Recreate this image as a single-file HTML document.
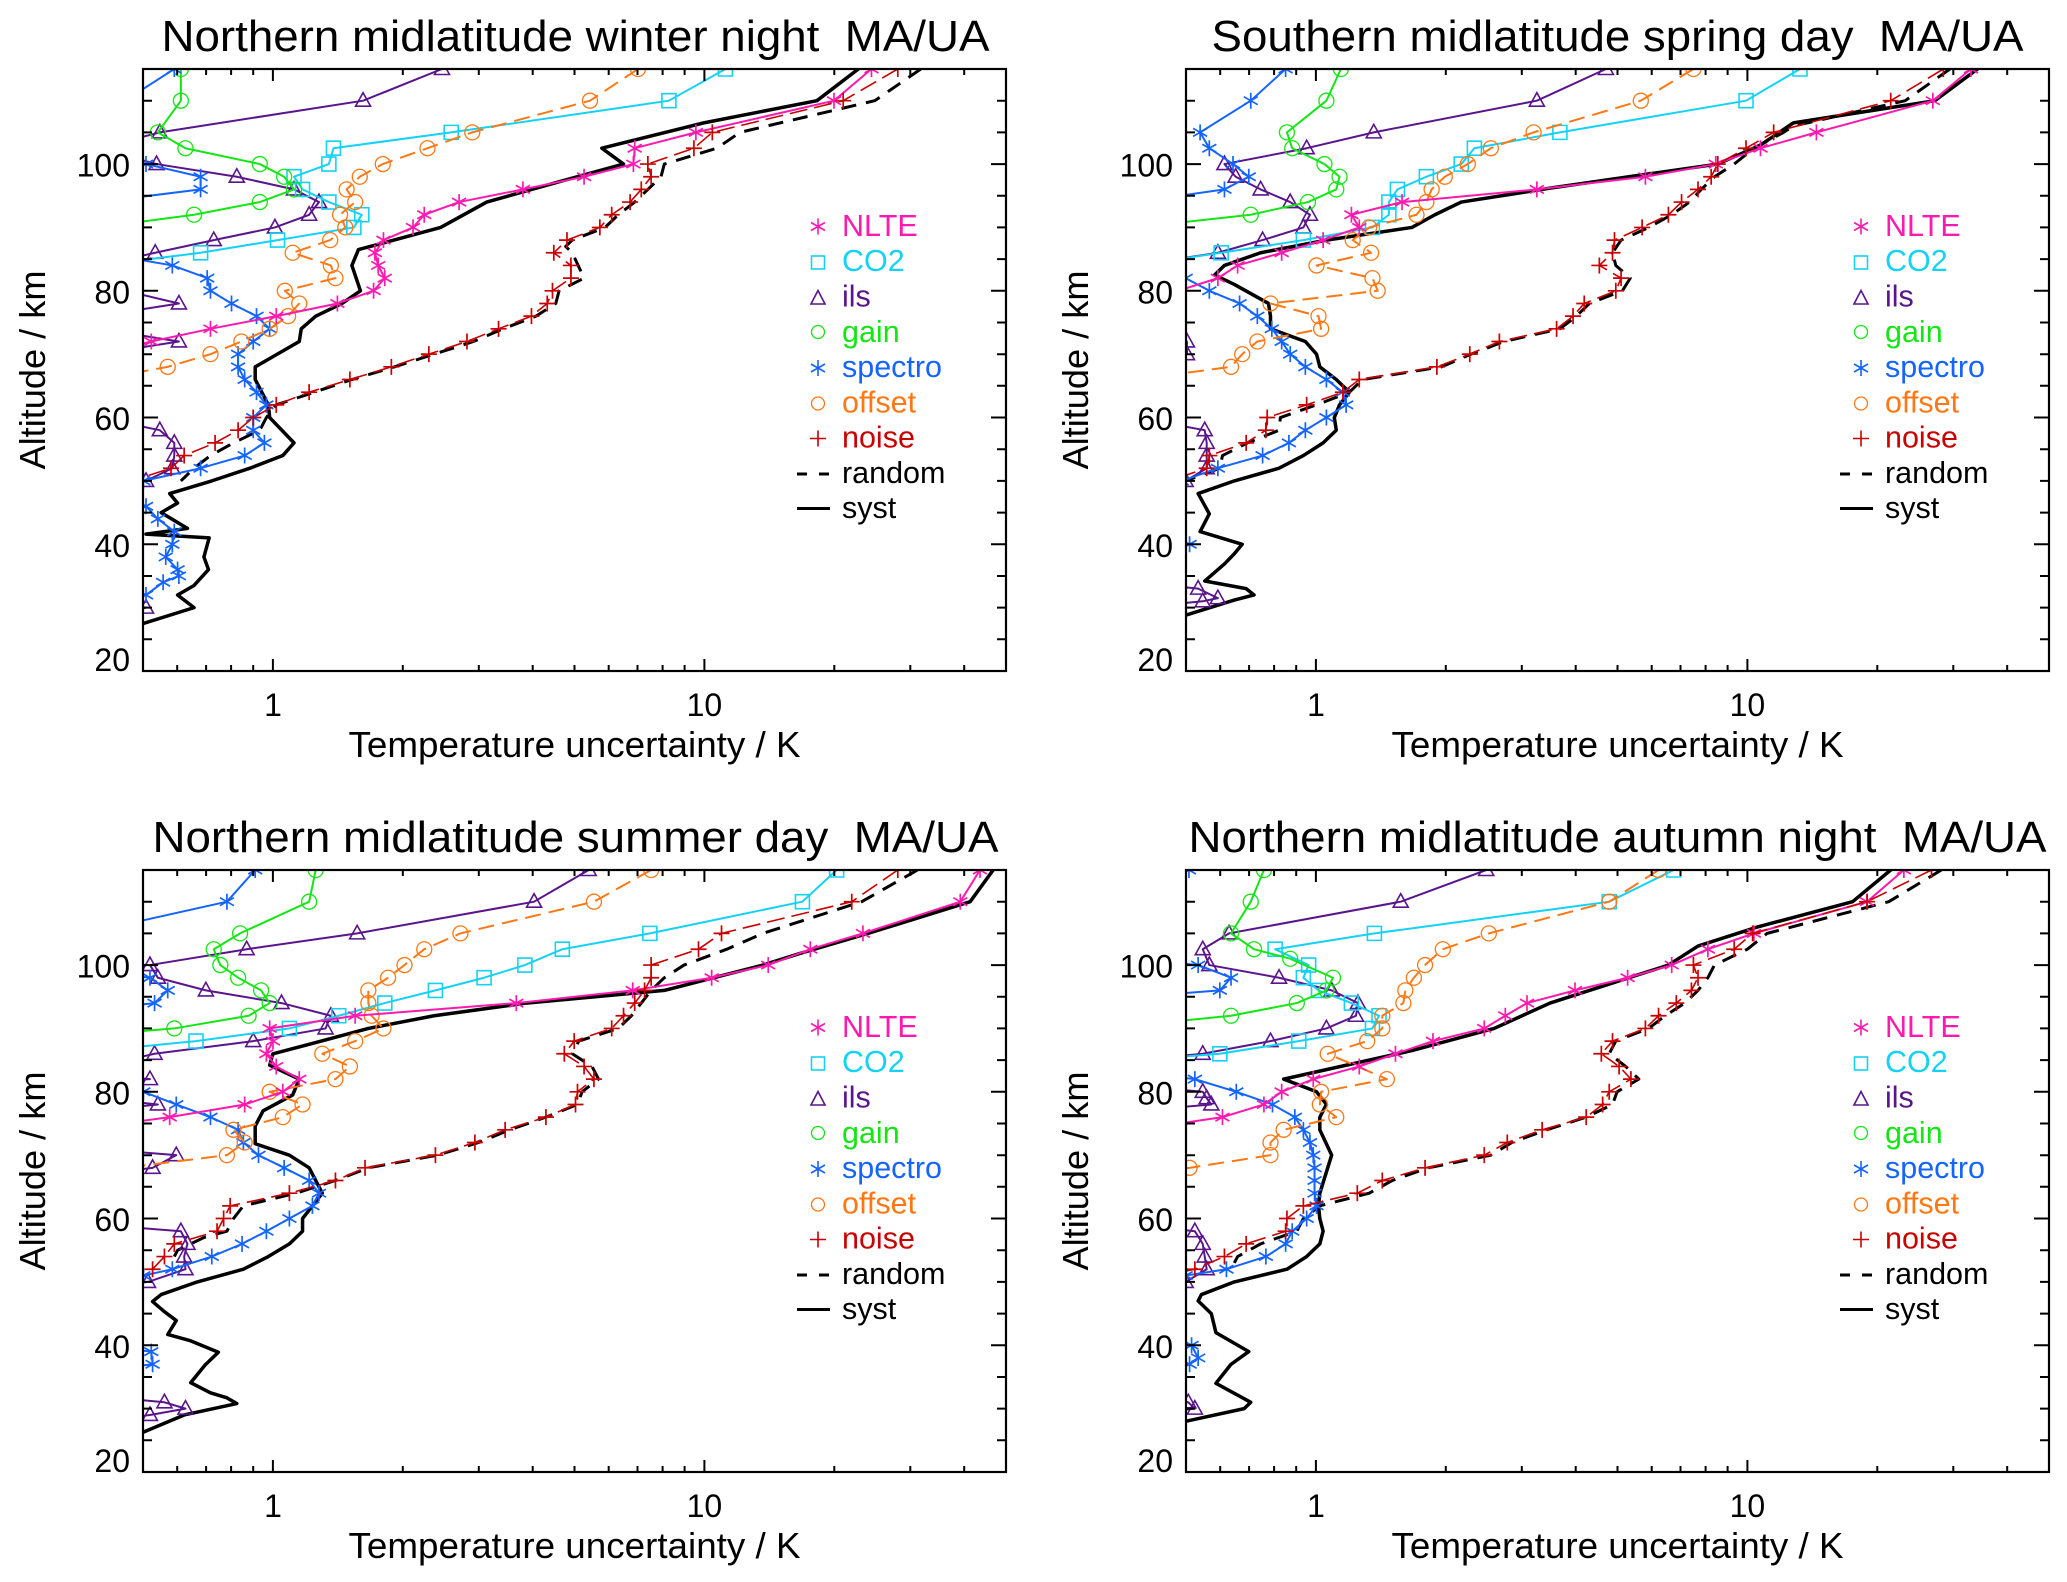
<!DOCTYPE html>
<html><head><meta charset="utf-8"><style>
html,body{margin:0;padding:0;background:#fff}
svg{display:block}
.d{fill:none;vector-effect:non-scaling-stroke;stroke-linejoin:round;stroke-linecap:butt}
.sy{stroke:#000;stroke-width:3.5}
.ra{stroke:#000;stroke-width:3;stroke-dasharray:15 10}
.no{stroke:#c80000;stroke-width:1.6;stroke-dasharray:18 7;marker-start:url(#mNO);marker-mid:url(#mNO);marker-end:url(#mNO)}
.nl{stroke:#ff1aaf;stroke-width:2;marker-start:url(#mNL);marker-mid:url(#mNL);marker-end:url(#mNL)}
.co{stroke:#14d2f5;stroke-width:2;marker-start:url(#mCO);marker-mid:url(#mCO);marker-end:url(#mCO)}
.il{stroke:#5a148c;stroke-width:2;marker-start:url(#mIL);marker-mid:url(#mIL);marker-end:url(#mIL)}
.ga{stroke:#14e614;stroke-width:2;marker-start:url(#mGA);marker-mid:url(#mGA);marker-end:url(#mGA)}
.sp{stroke:#1464ff;stroke-width:2;marker-start:url(#mSP);marker-mid:url(#mSP);marker-end:url(#mSP)}
.of{stroke:#ff7814;stroke-width:2;stroke-dasharray:16 8;marker-start:url(#mOF);marker-mid:url(#mOF);marker-end:url(#mOF)}
text{font-family:"Liberation Sans",Arial,Helvetica,sans-serif;fill:#000}
.t{font-size:44px}
.tl{font-size:32px}
.al{font-size:36.5px}
.lg{font-size:30.5px}
</style></head><body>
<svg xmlns="http://www.w3.org/2000/svg" xmlns:xlink="http://www.w3.org/1999/xlink" width="2067" height="1582" viewBox="0 0 2067 1582">
<defs>
<marker id="mNL" markerUnits="userSpaceOnUse" markerWidth="20" markerHeight="20" overflow="visible"><g transform="scale(1.52038,-0.157808)" fill="none" stroke="#ff1aaf" stroke-width="1.7"><path d="M0,-8V8M-7,-4L7,4M-7,4L7,-4"/></g></marker>
<marker id="mSP" markerUnits="userSpaceOnUse" markerWidth="20" markerHeight="20" overflow="visible"><g transform="scale(1.52038,-0.157808)" fill="none" stroke="#1464ff" stroke-width="1.7"><path d="M0,-8V8M-7,-4L7,4M-7,4L7,-4"/></g></marker>
<marker id="mCO" markerUnits="userSpaceOnUse" markerWidth="20" markerHeight="20" overflow="visible"><g transform="scale(1.52038,-0.157808)" fill="none" stroke="#14d2f5" stroke-width="1.6"><path d="M-7,-7H7V7H-7Z"/></g></marker>
<marker id="mIL" markerUnits="userSpaceOnUse" markerWidth="20" markerHeight="20" overflow="visible"><g transform="scale(1.52038,-0.157808)" fill="none" stroke="#5a148c" stroke-width="1.6"><path d="M0,-8L7.5,5.5H-7.5Z"/></g></marker>
<marker id="mGA" markerUnits="userSpaceOnUse" markerWidth="20" markerHeight="20" overflow="visible"><g transform="scale(1.52038,-0.157808)" fill="none" stroke="#14e614" stroke-width="1.3"><circle r="7.5"/></g></marker>
<marker id="mOF" markerUnits="userSpaceOnUse" markerWidth="20" markerHeight="20" overflow="visible"><g transform="scale(1.52038,-0.157808)" fill="none" stroke="#ff7814" stroke-width="1.3"><circle r="7.5"/></g></marker>
<marker id="mNO" markerUnits="userSpaceOnUse" markerWidth="20" markerHeight="20" overflow="visible"><g transform="scale(1.52038,-0.157808)" fill="none" stroke="#c80000" stroke-width="1.7"><path d="M-8,0H8M0,-8V8"/></g></marker>
<clipPath id="c0"><rect x="143" y="69" width="863" height="602"/></clipPath>
<clipPath id="c1"><rect x="1186" y="69" width="863" height="602"/></clipPath>
<clipPath id="c2"><rect x="143" y="870" width="863" height="602"/></clipPath>
<clipPath id="c3"><rect x="1186" y="870" width="863" height="602"/></clipPath>
<g id="axes" fill="none" stroke="#000" stroke-width="2">
<rect x="143" y="69" width="863" height="602" stroke-width="2.2"/>
<path d="M177.2 671v-6M206.1 671v-6M231.1 671v-6M253.2 671v-6M402.8 671v-6M478.8 671v-6M532.7 671v-6M574.5 671v-6M608.7 671v-6M637.5 671v-6M662.6 671v-6M684.6 671v-6M834.3 671v-6M910.3 671v-6M964.2 671v-6M272.9 671v-12M704.4 671v-12
M177.2 69v6M206.1 69v6M231.1 69v6M253.2 69v6M402.8 69v6M478.8 69v6M532.7 69v6M574.5 69v6M608.7 69v6M637.5 69v6M662.6 69v6M684.6 69v6M834.3 69v6M910.3 69v6M964.2 69v6M272.9 69v12M704.4 69v12
M143 639.3h9M143 607.6h9M143 576h9M143 512.6h9M143 480.9h9M143 449.2h9M143 385.8h9M143 354.2h9M143 322.5h9M143 259.1h9M143 227.4h9M143 195.7h9M143 132.4h9M143 100.7h9M143 544.3h15M143 417.5h15M143 290.8h15M143 164.1h15
M1006 639.3h-9M1006 607.6h-9M1006 576h-9M1006 512.6h-9M1006 480.9h-9M1006 449.2h-9M1006 385.8h-9M1006 354.2h-9M1006 322.5h-9M1006 259.1h-9M1006 227.4h-9M1006 195.7h-9M1006 132.4h-9M1006 100.7h-9M1006 544.3h-15M1006 417.5h-15M1006 290.8h-15M1006 164.1h-15"/>
</g>
<g id="legsym" fill="none">
<path d="M818,218.5v16M811,222.5l14,8M811,230.5l14,-8" stroke="#ff1aaf" stroke-width="1.6"/>
<rect x="811.5" y="256" width="13" height="13" stroke="#14d2f5" stroke-width="1.6"/>
<path d="M818,290.5L825,304H811Z" stroke="#5a148c" stroke-width="1.6"/>
<circle cx="818" cy="332" r="6.5" stroke="#14e614" stroke-width="1.3"/>
<path d="M818,360v16M811,364l14,8M811,372l14,-8" stroke="#1464ff" stroke-width="1.6"/>
<circle cx="818" cy="403.5" r="6.5" stroke="#ff7814" stroke-width="1.3"/>
<path d="M810,438.5h16M818,430.5v16" stroke="#c80000" stroke-width="1.6"/>
<path d="M797,474h10M819,474h10" stroke="#000" stroke-width="3"/>
<path d="M797,508.5h33" stroke="#000" stroke-width="3"/>
</g>
</defs>

<!-- ===== Panel TL ===== -->
<g clip-path="url(#c0)"><g transform="matrix(0.65773 0 0 -6.3368 0 797.736)">
<polyline class="d sy" points="1330,117 1305,115 1242,110 1070,106.5 915,102.5 948,100 860,97.5 740,94 670,90 545,86.5 535,84 548,80 520,78 480,76 458,74 455,72 388,68 388,66 398,64 408,62 410,60 447,56 430,54 380,52 322,50 258,48 270,46.5 245,45 285,42.5 222,41.6 318,41 310,38 317,36 295,33.5 270,32 295,30 218,27.5 150,26"/>
<polyline class="d ra" points="1400,115 1330,110 1125,105 1090,102.5 1010,100 1005,98 985,96 965,94 940,92 920,90 870,88 860,87 870,86 888,82 850,80 845,78 815,76 765,74 720,72 660,70 600,68 535,66 478,64 420,62 405,60 395,58 355,56 320,54 295,52 275,50"/>
<polyline class="d il" points="672,115 552,110 243,105 150,102.5 238,100 360,98 447,96 485,94 470,92 418,90 325,88 236,86 150,84 150,82 190,80 272,78 150,76 150,74 272,72 150,70 150,60 243,58 265,56 265,54 262,52 222,50 150,48 150,31 222,30 150,28"/>
<polyline class="d co" points="1103,115 1017,110 686,105 507,102.5 500,100 447,98 460,96 500,94 550,92 538,90 422,88 305,86 150,84"/>
<polyline class="d ga" points="275,115 275,110 240,105 282,102.5 395,100 432,98 447,96 395,94 295,92 150,90"/>
<polyline class="d sp" points="265,115 190,110 150,101 222,100 305,98 305,96 150,94 150,86 262,84 315,82 320,80 352,78 390,76 410,74 385,72 362,70 362,68 372,66 390,64 405,62 385,60 385,58 402,56 372,54 305,52 218,50 150,48 222,46 240,44 265,42 262,40 252,38 270,36 272,35 248,34 222,32 150,30"/>
<polyline class="d of" points="970,115 897,110 718,105 650,102.5 582,100 547,98 527,96 540,94 517,92 525,90 502,88 445,86 503,84 510,82 433,80 455,78 438,76 410,74 367,72 320,70 255,68 150,66"/>
<polyline class="d nl" points="1325,115 1268,110 1058,105 965,102.5 963,100 888,98 795,96 698,94 645,92 628,90 583,88 570,86 575,84 585,82 568,80 513,78 420,76 320,74 230,72 150,70"/>
<polyline class="d no" points="1365,115 1282,110 1083,105 1055,102.5 985,100 990,98 975,96 958,94 930,92 912,90 862,88 842,86 868,84 868,82 840,80 832,78 808,76 758,74 710,72 652,70 595,68 532,66 470,64 420,62 385,60 362,58 327,56 280,54 260,52 200,50 150,49"/>
</g></g>

<!-- ===== Panel TR ===== -->
<g clip-path="url(#c1)"><g transform="matrix(0.65773 0 0 -6.3368 1037 797.736)">
<polyline class="d sy" points="1450,117 1430,115 1365,110 1150,106.5 1100,103 1035,100 900,98 780,96.2 645,94 605,92 570,90 440,88 340,86 285,84 270,82.5 300,81 352,78 355,76 355,74 408,72 425,70 430,68 455,66 475,64 460,62 452,60 455,58 435,56 405,54 368,52 300,50 245,48 262,44.8 248,42 312,40 300,38.5 285,36.9 255,34.2 318,33 330,32 300,31.2 226,28.8 150,27"/>
<polyline class="d ra" points="1388,115 1320,110 1150,106 1135,105 1090,102.5 1060,100 1030,98 1010,96 992,94 965,92 930,90 888,88 875,86 880,84 902,82 890,80 840,78 820,76 795,74 710,72 660,70 615,68 495,66 475,64 425,62 370,60 368,58 320,56 282,54 278,52 226,50"/>
<polyline class="d il" points="865,115 760,110 512,105 410,102.5 285,100 302,98 340,96 385,94 415,92 405,90 343,88 275,86 150,84 150,73 228,72 228,70 150,68 150,60 255,58 258,56 258,54 258,52 226,50 150,48 150,34 245,33 275,31.5 252,31 150,30"/>
<polyline class="d co" points="1160,115 1078,110 795,105 665,102.5 645,100 592,98 548,96 535,94 535,92 510,90 405,88 280,86 150,84"/>
<polyline class="d ga" points="462,115 440,110 380,105 388,102.5 437,100 460,98 455,96 412,94 325,92 150,90"/>
<polyline class="d sp" points="378,115 325,110 248,105 262,102.5 298,100 322,98 285,96 150,94 150,83 226,82 262,80 308,78 335,76 357,74 372,72 385,70 408,68 440,66 465,64 470,62 440,60 408,58 383,56 343,54 275,52 220,50 150,49 150,42 232,40 150,38"/>
<polyline class="d of" points="998,115 918,110 755,105 690,102.5 655,100 620,98 600,96 592,94 577,92 505,90 480,88 508,86 425,84 510,82 518,80 355,78 428,76 432,74 335,72 312,70 295,68 150,66"/>
<polyline class="d nl" points="1420,115 1362,110 1185,105 1100,102.5 1032,100 925,98 760,96 555,94 478,92 490,90 435,88 372,86 305,84 275,82 215,80 150,78"/>
<polyline class="d no" points="1378,115 1298,110 1120,105 1078,102.5 1035,100 1025,98 1005,96 980,94 960,92 920,90 878,88 875,86 855,84 888,82 880,80 832,78 815,76 790,74 703,72 658,70 608,68 490,66 465,64 410,62 350,60 348,58 318,56 262,54 258,52 200,50 150,49"/>
</g></g>

<!-- ===== Panel BL ===== -->
<g clip-path="url(#c2)"><g transform="matrix(0.65773 0 0 -6.3368 0 1598.736)">
<polyline class="d sy" points="1525,117 1510,115 1475,110 1320,105 1215,101.8 1160,100 1010,96 800,94 660,92 560,90 470,87.5 415,86 410,84.2 455,82 445,79.5 400,77 388,74.6 388,71.8 440,70 470,68 490,64 475,62 460,60 460,58 440,56 408,54 370,52 300,50 245,48 232,46.9 250,45.3 268,43.9 255,41.7 290,40.7 332,38.9 312,36.9 290,34.1 320,32.5 345,31.7 360,30.8 280,29 218,26.3 150,25.5"/>
<polyline class="d ra" points="1395,115 1310,110 1160,105 1105,102.5 1040,100 1010,98 990,96 975,94 960,92 940,90 880,88 870,86 900,84 910,82 885,80 878,78 830,76 775,74 728,72 665,70 560,68 510,66 450,64 370,62 355,60 345,58 310,57 270,55 265,54"/>
<polyline class="d il" points="895,115 812,110 543,105 375,102.5 228,100 240,98 313,96 428,94 503,92 495,90 385,88 235,86 150,84 150,82.5 228,82 150,81.5 150,79 240,78 150,77 150,71 268,70 232,68 150,67 150,59 275,58 285,56 280,54 282,52 225,50 150,49 150,32 250,31 282,30 228,29 150,28"/>
<polyline class="d co" points="1272,115 1220,110 988,105 855,102.5 798,100 736,98 662,96 585,94 515,92 440,90 298,88 150,86.5"/>
<polyline class="d ga" points="480,115 470,110 365,105 325,102.5 335,100 362,98 397,96 410,94 378,92 265,90 150,89"/>
<polyline class="d sp" points="388,115 345,110 150,105.5 150,99 228,98 255,96 235,94 150,93 150,81 218,80 268,78 320,76 362,74 370,72 393,70 432,68 470,66 485,64 475,62 440,60 405,58 368,56 322,54 262,52 218,51 150,50 150,40 230,39 232,37 150,36"/>
<polyline class="d of" points="990,115 903,110 700,105 645,102.5 615,100 590,98 560,96 560,94 565,92 583,90 540,88 490,86 532,84 510,82 410,80 460,78 430,76 355,74 372,72 345,70 150,67.5"/>
<polyline class="d nl" points="1490,115 1460,110 1312,105 1232,102.5 1168,100 1082,98 962,96 785,94 540,92 410,90 415,88 405,86 420,84 455,82 430,80 372,78 258,76 150,74.5"/>
<polyline class="d no" points="1365,115 1295,110 1097,105 1062,102.5 990,100 990,98 980,96 965,94 948,92 930,90 873,88 858,86 888,84 903,82 878,80 875,78 830,76 768,74 722,72 662,70 555,68 510,66 440,64 350,62 340,60 330,58 265,56 250,54 232,52 150,50.5"/>
</g></g>

<!-- ===== Panel BR ===== -->
<g clip-path="url(#c3)"><g transform="matrix(0.65773 0 0 -6.3368 1037 1598.736)">
<polyline class="d sy" points="1320,117 1298,115 1240,110 1095,106 1005,103 960,100 870,97 780,94 695,90 570,86.5 375,82 425,80 440,78 430,76 430,74 448,70 430,64 428,62 430,60 435,58 430,56 410,54 380,52 300,50 250,48 245,47 265,45 272,42 322,39 295,37 272,34 325,31 315,30 226,28 150,27"/>
<polyline class="d ra" points="1375,115 1295,110 1110,105 1080,102.5 1030,100 1020,98 1005,96 985,94 955,92 930,90 880,88 870,86 895,84 915,82 882,80 875,78 835,76 775,74 722,72 690,70 595,68 540,66 505,64 430,62 405,60 395,58 340,56 305,54 300,53"/>
<polyline class="d il" points="683,115 553,110 292,105 252,102.5 262,100 368,98 448,96 488,94 485,92 440,90 355,88 252,86 150,85 150,81 252,80 258,79 265,78 150,77 150,59 240,58 252,56 255,54 258,52 226,50 150,49 150,32 230,31 240,30 150,29"/>
<polyline class="d co" points="968,115 870,110 513,105 362,102.5 413,100 405,98 428,96 478,94 520,92 510,90 398,88 278,86 150,85"/>
<polyline class="d ga" points="345,115 325,110 295,105 330,102.5 385,101 450,98 440,96 395,94 295,92 150,90.5"/>
<polyline class="d sp" points="231,115 150,114 150,101 245,100 295,98 278,96 150,95 150,83 240,82 303,80 358,78 392,76 405,74 415,72 420,70 422,68 422,66 422,64 425,62 410,60 388,58 378,56 348,54 288,52 226,51 150,50 150,41 235,40 245,38 232,37 150,36"/>
<polyline class="d of" points="945,115 870,110 687,105 617,102.5 590,100 573,98 560,96 557,94 525,92 525,90 502,88 442,86 532,82 432,80 430,78 455,76 375,74 355,72 355,70 232,68 150,67.5"/>
<polyline class="d nl" points="1318,115 1262,110 1090,105 1020,102.5 965,100 898,98 818,96 745,94 712,92 680,90 602,88 545,86 490,84 420,82 372,80 345,78 282,76 150,74"/>
<polyline class="d no" points="1360,115 1262,110 1088,105 1060,102.5 998,100 1005,98 995,96 972,94 945,92 925,90 875,88 858,86 885,84 903,82 870,80 860,78 835,76 768,74 715,72 680,70 590,68 525,66 487,64 405,62 380,60 378,58 318,56 285,54 240,52 150,50"/>
</g></g>

<!-- axes -->
<use xlink:href="#axes" href="#axes"/>
<use xlink:href="#axes" href="#axes" transform="translate(1043,0)"/>
<use xlink:href="#axes" href="#axes" transform="translate(0,801)"/>
<use xlink:href="#axes" href="#axes" transform="translate(1043,801)"/>
<use xlink:href="#legsym" href="#legsym"/>
<use xlink:href="#legsym" href="#legsym" transform="translate(1043,0)"/>
<use xlink:href="#legsym" href="#legsym" transform="translate(0,801)"/>
<use xlink:href="#legsym" href="#legsym" transform="translate(1043,801)"/>

<!-- titles -->
<text class="t" x="575.5" y="51" text-anchor="middle" textLength="828" lengthAdjust="spacingAndGlyphs">Northern midlatitude winter night&#160; MA/UA</text>
<text class="t" x="1617.5" y="51" text-anchor="middle" textLength="812" lengthAdjust="spacingAndGlyphs">Southern midlatitude spring day&#160; MA/UA</text>
<text class="t" x="575.5" y="852" text-anchor="middle" textLength="846" lengthAdjust="spacingAndGlyphs">Northern midlatitude summer day&#160; MA/UA</text>
<text class="t" x="1617.5" y="852" text-anchor="middle" textLength="858" lengthAdjust="spacingAndGlyphs">Northern midlatitude autumn night&#160; MA/UA</text>

<!-- tick labels -->
<g class="tl" text-anchor="end">
<text x="130" y="176.6">100</text><text x="130" y="303.3">80</text><text x="130" y="430">60</text><text x="130" y="556.8">40</text><text x="130" y="671">20</text>
<text x="1173" y="176.6">100</text><text x="1173" y="303.3">80</text><text x="1173" y="430">60</text><text x="1173" y="556.8">40</text><text x="1173" y="671">20</text>
<text x="130" y="977.6">100</text><text x="130" y="1104.3">80</text><text x="130" y="1231">60</text><text x="130" y="1357.8">40</text><text x="130" y="1472">20</text>
<text x="1173" y="977.6">100</text><text x="1173" y="1104.3">80</text><text x="1173" y="1231">60</text><text x="1173" y="1357.8">40</text><text x="1173" y="1472">20</text>
</g>
<g class="tl" text-anchor="middle">
<text x="273" y="716">1</text><text x="704.4" y="716">10</text>
<text x="1316" y="716">1</text><text x="1747.4" y="716">10</text>
<text x="273" y="1517">1</text><text x="704.4" y="1517">10</text>
<text x="1316" y="1517">1</text><text x="1747.4" y="1517">10</text>
</g>
<g class="al" text-anchor="middle">
<text x="574.5" y="757" textLength="452" lengthAdjust="spacingAndGlyphs">Temperature uncertainty / K</text>
<text x="1617.5" y="757" textLength="452" lengthAdjust="spacingAndGlyphs">Temperature uncertainty / K</text>
<text x="574.5" y="1558" textLength="452" lengthAdjust="spacingAndGlyphs">Temperature uncertainty / K</text>
<text x="1617.5" y="1558" textLength="452" lengthAdjust="spacingAndGlyphs">Temperature uncertainty / K</text>
<text transform="translate(45,370) rotate(-90)" textLength="199" lengthAdjust="spacingAndGlyphs">Altitude / km</text>
<text transform="translate(1088,370) rotate(-90)" textLength="199" lengthAdjust="spacingAndGlyphs">Altitude / km</text>
<text transform="translate(45,1171) rotate(-90)" textLength="199" lengthAdjust="spacingAndGlyphs">Altitude / km</text>
<text transform="translate(1088,1171) rotate(-90)" textLength="199" lengthAdjust="spacingAndGlyphs">Altitude / km</text>
</g>

<!-- legends -->
<g class="lg">
<text x="842" y="236" style="fill:#ff1aaf">NLTE</text>
<text x="842" y="271" style="fill:#14d2f5">CO2</text>
<text x="842" y="306.5" style="fill:#5a148c">ils</text>
<text x="842" y="342" style="fill:#14e614">gain</text>
<text x="842" y="377" style="fill:#1464ff">spectro</text>
<text x="842" y="412.5" style="fill:#ff7814">offset</text>
<text x="842" y="447.5" style="fill:#c80000">noise</text>
<text x="842" y="483">random</text>
<text x="842" y="518">syst</text>

<text x="1885" y="236" style="fill:#ff1aaf">NLTE</text>
<text x="1885" y="271" style="fill:#14d2f5">CO2</text>
<text x="1885" y="306.5" style="fill:#5a148c">ils</text>
<text x="1885" y="342" style="fill:#14e614">gain</text>
<text x="1885" y="377" style="fill:#1464ff">spectro</text>
<text x="1885" y="412.5" style="fill:#ff7814">offset</text>
<text x="1885" y="447.5" style="fill:#c80000">noise</text>
<text x="1885" y="483">random</text>
<text x="1885" y="518">syst</text>

<text x="842" y="1037" style="fill:#ff1aaf">NLTE</text>
<text x="842" y="1072" style="fill:#14d2f5">CO2</text>
<text x="842" y="1107.5" style="fill:#5a148c">ils</text>
<text x="842" y="1143" style="fill:#14e614">gain</text>
<text x="842" y="1178" style="fill:#1464ff">spectro</text>
<text x="842" y="1213.5" style="fill:#ff7814">offset</text>
<text x="842" y="1248.5" style="fill:#c80000">noise</text>
<text x="842" y="1284">random</text>
<text x="842" y="1319">syst</text>

<text x="1885" y="1037" style="fill:#ff1aaf">NLTE</text>
<text x="1885" y="1072" style="fill:#14d2f5">CO2</text>
<text x="1885" y="1107.5" style="fill:#5a148c">ils</text>
<text x="1885" y="1143" style="fill:#14e614">gain</text>
<text x="1885" y="1178" style="fill:#1464ff">spectro</text>
<text x="1885" y="1213.5" style="fill:#ff7814">offset</text>
<text x="1885" y="1248.5" style="fill:#c80000">noise</text>
<text x="1885" y="1284">random</text>
<text x="1885" y="1319">syst</text>
</g>
</svg>
</body></html>
